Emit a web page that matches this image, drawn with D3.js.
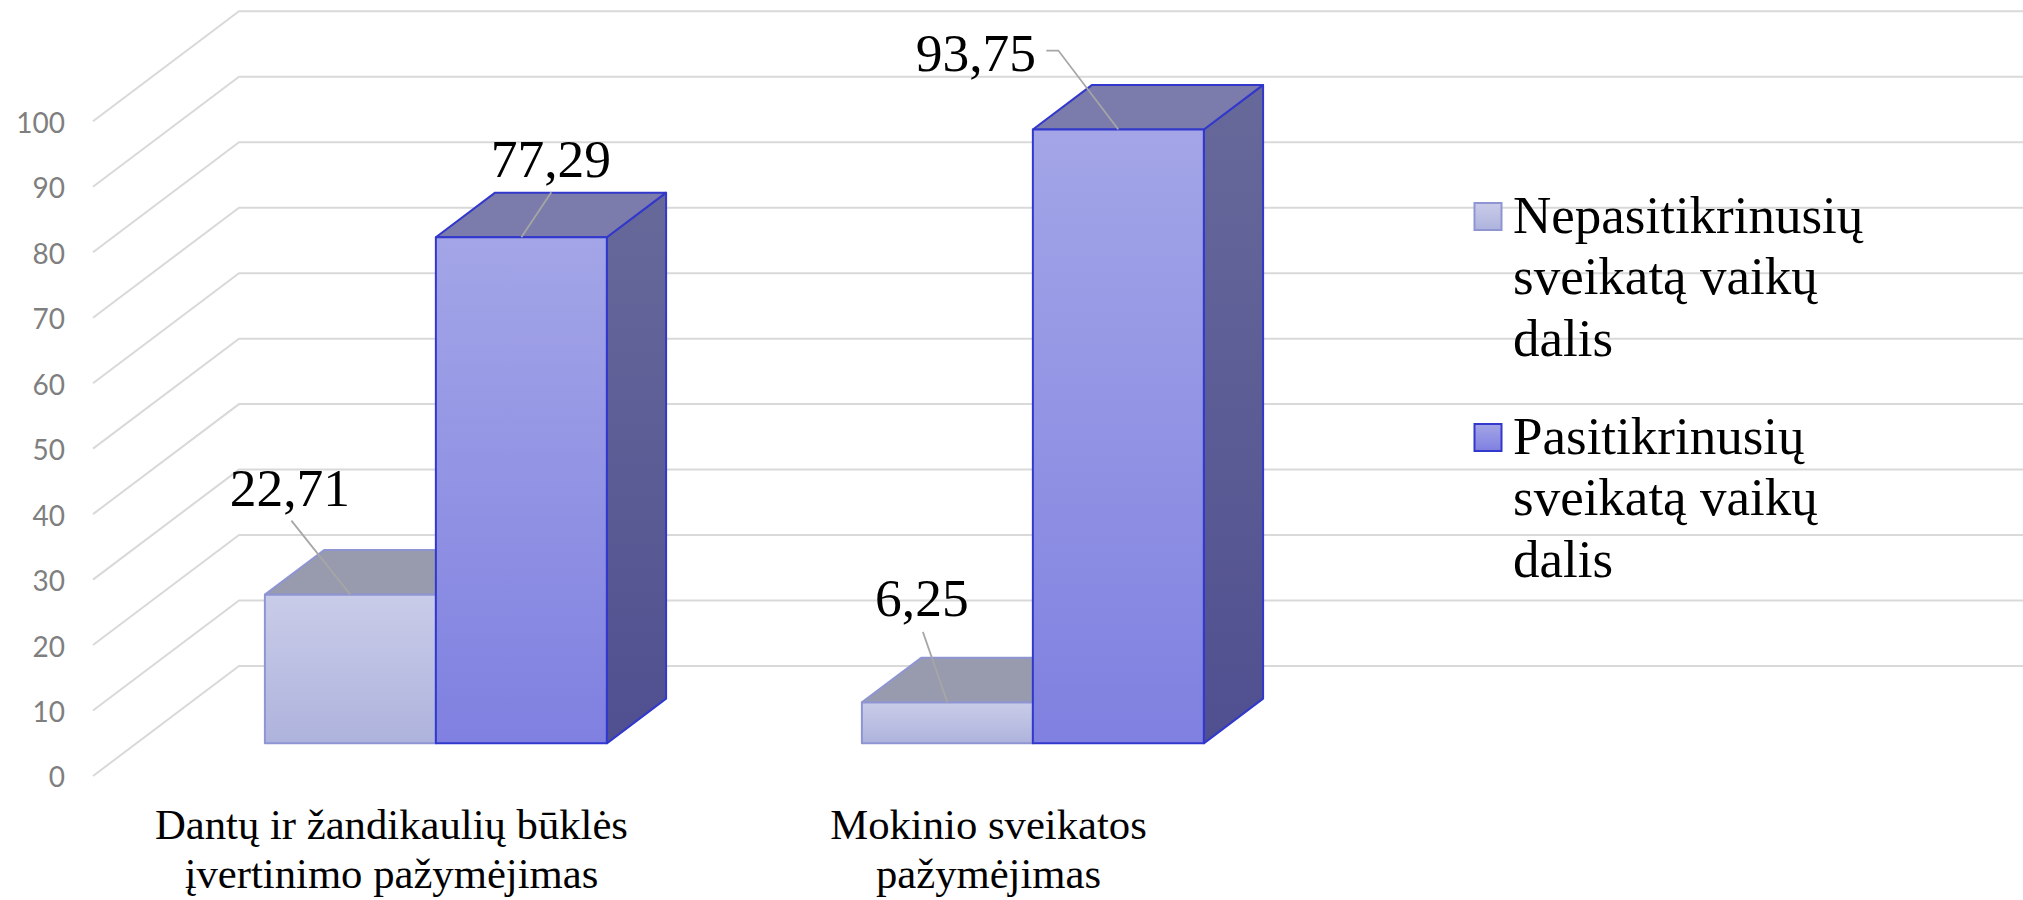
<!DOCTYPE html>
<html>
<head>
<meta charset="utf-8">
<script src="https://cdn.jsdelivr.net/npm/d3@7"></script>
<style>
  html, body { margin: 0; padding: 0; background: #fff; }
  svg { display: block; }
</style>
</head>
<body>
<script>
// values
const categories = ['Dantų ir žandikaulių būklės įvertinimo pažymėjimas', 'Mokinio sveikatos pažymėjimas'];
const categoryLines = [['Dantų ir žandikaulių būklės', 'įvertinimo pažymėjimas'], ['Mokinio sveikatos', 'pažymėjimas']];
const seriesNames = ['Nepasitikrinusių sveikatą vaikų dalis', 'Pasitikrinusių sveikatą vaikų dalis'];
const seriesLines = [['Nepasitikrinusių', 'sveikatą vaikų', 'dalis'], ['Pasitikrinusių', 'sveikatą vaikų', 'dalis']];
const notChecked = [22.71, 6.25];
const checked = [77.29, 93.75];
const yTicks = [0, 10, 20, 30, 40, 50, 60, 70, 80, 90, 100];

const width = 2023;
const height = 900;
const serif = '"Liberation Serif", "Times New Roman", serif';

// comma as decimal mark
const lt = d3.formatLocale({decimal: ',', thousands: ' ', grouping: [3], currency: ['', '']});
const fmt = lt.format('.2f');

const svg = d3.select('body').append('svg')
  .attr('width', width)
  .attr('height', height);

// scales, front plane of the 3d box
const x0 = d3.scaleBand().domain(categories).range([93, 1287]);
const x1 = d3.scaleBand().domain(seriesNames).range([1, x0.bandwidth() + 1]).paddingOuter(0.746);
const y = d3.scaleLinear().domain([0, 100]).range([776, 121.3]);
// going back in depth moves a point right and up
const depthX = d3.scaleLinear().domain([0, 1]).range([0, 146]);
const depthY = d3.scaleLinear().domain([0, 1]).range([0, 110]);
const barFront = 0.297;
const barBack = 0.703;

function project(px, value, depth) {
  return [px + depthX(depth), y(value) - depthY(depth)];
}
const poly = d3.line();

// gradients
const defs = svg.append('defs');
function gradient(id, top, bottom) {
  const g = defs.append('linearGradient').attr('id', id)
    .attr('x1', 0).attr('y1', 0).attr('x2', 0).attr('y2', 1);
  g.append('stop').attr('offset', '0%').attr('stop-color', top);
  g.append('stop').attr('offset', '100%').attr('stop-color', bottom);
}
gradient('front0', '#c9cce8', '#aeb3dd');
gradient('front1', '#a3a5e7', '#7f80e0');
gradient('side0', '#8e90a8', '#7c7f9e');
gradient('side1', '#67699a', '#504f90');

const styles = [
  {stroke: '#8e95d2', strokeWidth: 2, front: 'url(#front0)', side: 'url(#side0)', top: '#989bad'},
  {stroke: '#3238cc', strokeWidth: 2, front: 'url(#front1)', side: 'url(#side1)', top: '#7b7cab'}
];

// walls: one line per tick, floor edge then along the back
svg.append('g')
  .selectAll('path')
  .data(yTicks)
  .join('path')
  .attr('d', d => poly([project(x0.range()[0], d, 0), project(x0.range()[0], d, 1), [width, y(d) - depthY(1)]]))
  .attr('fill', 'none')
  .attr('stroke', '#d9d9d9')
  .attr('stroke-width', 2);

// bars, light series first so the dark one covers it
const rows = [notChecked, checked];
rows.forEach(function(values, s) {
  const st = styles[s];
  const barG = svg.append('g');
  categories.forEach(function(c, i) {
    const left = x0(c) + x1(seriesNames[s]);
    const right = left + x1.bandwidth();
    const v = values[i];

    barG.append('path')
      .attr('d', poly([project(right, 0, barFront), project(right, 0, barBack), project(right, v, barBack), project(right, v, barFront)]) + 'Z')
      .attr('fill', st.side).attr('stroke', st.stroke).attr('stroke-width', st.strokeWidth)
      .attr('stroke-linejoin', 'round');
    barG.append('path')
      .attr('d', poly([project(left, v, barFront), project(left, v, barBack), project(right, v, barBack), project(right, v, barFront)]) + 'Z')
      .attr('fill', st.top).attr('stroke', st.stroke).attr('stroke-width', st.strokeWidth)
      .attr('stroke-linejoin', 'round');
    barG.append('path')
      .attr('d', poly([project(left, 0, barFront), project(left, v, barFront), project(right, v, barFront), project(right, 0, barFront)]) + 'Z')
      .attr('fill', st.front).attr('stroke', st.stroke).attr('stroke-width', st.strokeWidth)
      .attr('stroke-linejoin', 'round');
  });
});

// value labels, placed by hand from the bar's front top centre (leader points, then text)
const labelLayout = [
  [{leader: [[-59, -74]], dx: -60.5, dy: -88.5}, {leader: [[-24.5, -70.5]], dx: -25.5, dy: -86.5}],
  [{leader: [[30, -45]], dx: 29.5, dy: -60.5}, {leader: [[-60, -79], [-72, -79]], dx: -142.5, dy: -59}]
];
rows.forEach(function(values, s) {
  categories.forEach(function(c, i) {
    const v = values[i];
    const left = x0(c) + x1(seriesNames[s]);
    const start = project(left + x1.bandwidth() / 2, v, barFront);
    const lay = labelLayout[s][i];
    const pts = [start].concat(lay.leader.map(p => [start[0] + p[0], start[1] + p[1]]));
    svg.append('path')
      .attr('d', poly(pts))
      .attr('fill', 'none')
      .attr('stroke', '#a6a6a6')
      .attr('stroke-width', 1.75);
    svg.append('text')
      .attr('x', start[0] + lay.dx)
      .attr('y', start[1] + lay.dy)
      .attr('text-anchor', 'middle')
      .attr('font-family', serif)
      .attr('font-size', 53.5)
      .attr('fill', '#000')
      .text(fmt(v));
  });
});

// y axis
const yAxis = d3.axisLeft(y).tickValues(yTicks).tickSize(0).tickPadding(0).tickFormat(d3.format('d'));
const yG = svg.append('g')
  .attr('transform', 'translate(65,2)')
  .call(yAxis);
yG.select('.domain').remove();
yG.selectAll('text')
  .attr('font-family', 'Lato, sans-serif')
  .attr('font-size', 28)
  .attr('fill', '#7f7f7f');

// category labels
svg.append('g')
  .selectAll('text')
  .data(categories)
  .join('text')
  .attr('text-anchor', 'middle')
  .attr('font-family', serif)
  .attr('font-size', 42.7)
  .attr('fill', '#000')
  .each(function(c, i) {
    d3.select(this).selectAll('tspan')
      .data(categoryLines[i])
      .join('tspan')
      .attr('x', x0(c) + x0.bandwidth() / 2)
      .attr('y', (d, j) => 839.3 + j * 49)
      .text(d => d);
  });

// legend
const legend = svg.append('g')
  .selectAll('g')
  .data(seriesNames)
  .join('g')
  .attr('transform', (d, i) => `translate(1474.5,${203 + i * 221})`);
legend.append('rect')
  .attr('width', 27)
  .attr('height', 27)
  .attr('fill', (d, i) => styles[i].front)
  .attr('stroke', (d, i) => styles[i].stroke)
  .attr('stroke-width', 2);
legend.append('text')
  .attr('font-family', serif)
  .attr('font-size', 53)
  .attr('fill', '#000')
  .each(function(d, i) {
    d3.select(this).selectAll('tspan')
      .data(seriesLines[i])
      .join('tspan')
      .attr('x', 38.5)
      .attr('y', (t, j) => 29.5 + j * 61.5)
      .text(t => t);
  });
</script>
</body>
</html>
